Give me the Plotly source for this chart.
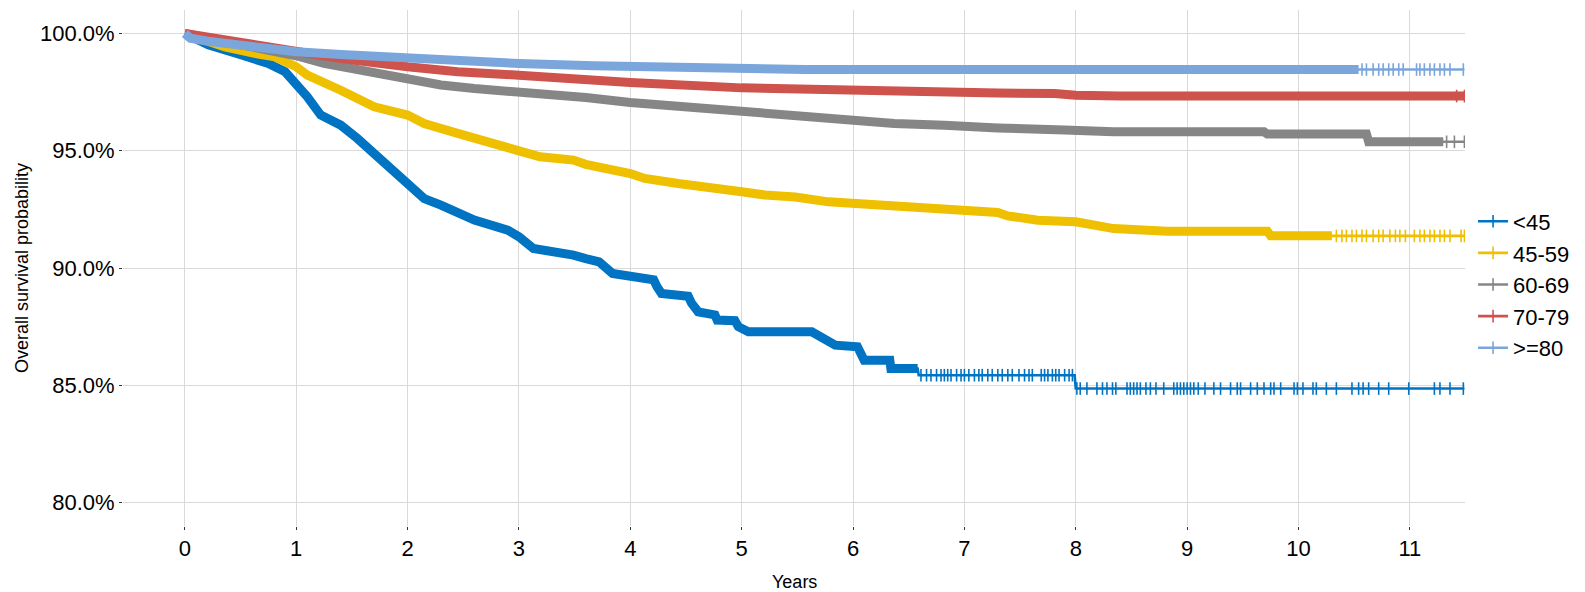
import numpy as np
import plotly.graph_objects as go

# ---------------- data ----------------
groups = ["<45", "45-59", "60-69", "70-79", ">=80"]
colors = ["#0073C2", "#EFC000", "#868686", "#CD534C", "#7AA6DC"]

t_lt45 = [0, 0.21, 0.51, 0.75, 0.9, 1.0, 1.1, 1.22, 1.4, 1.55, 1.7, 1.85, 2.0, 2.15, 2.3, 2.45, 2.6,
          2.9, 3.0, 3.13, 3.34, 3.49, 3.6, 3.72, 3.84, 4.0, 4.21, 4.24, 4.28, 4.52, 4.55, 4.61, 4.76,
          4.78, 4.94, 4.97, 5.06, 5.63, 5.72, 5.84, 6.04, 6.06, 6.1, 6.33, 6.34, 6.58, 6.59, 7.99,
          8.0, 11.49]
s_lt45 = [100, 99.52, 99.08, 98.72, 98.37, 97.87, 97.3, 96.52, 96.09, 95.52, 94.88, 94.31, 93.67,
          92.96, 92.68, 92.32, 92.04, 91.61, 91.33, 90.83, 90.69, 90.55, 90.4, 90.26, 89.77, 89.62,
          89.5, 89.2, 88.91, 88.8, 88.5, 88.13, 88.0, 87.78, 87.75, 87.5, 87.28, 87.28, 87.06, 86.71,
          86.64, 86.35, 86.07, 86.07, 85.71, 85.71, 85.43, 85.43, 84.86, 84.86]

t_45_59 = [0, 0.36, 0.66, 0.81, 1.0, 1.1, 1.4, 1.7, 2.0, 2.15, 2.45, 2.75, 3.0, 3.19, 3.49, 3.6, 4.0,
           4.13, 4.43, 4.73, 5.0, 5.21, 5.48, 5.78, 6.0, 6.37, 6.73, 7.0, 7.3, 7.39, 7.66, 8.0, 8.34,
           8.82, 9.72, 9.75, 11.49]
s_45_59 = [100, 99.43, 99.12, 99.0, 98.58, 98.22, 97.58, 96.87, 96.52, 96.16, 95.74, 95.31, 94.95,
           94.74, 94.6, 94.42, 94.03, 93.82, 93.6, 93.46, 93.25, 93.11, 93.03, 92.82, 92.75, 92.68,
           92.61, 92.47, 92.37, 92.22, 92.04, 91.97, 91.68, 91.57, 91.57, 91.37, 91.37]

t_60_69 = [0, 0.36, 0.66, 1.0, 1.25, 1.55, 2.0, 2.3, 2.6, 3.0, 3.34, 3.6, 4.0, 4.43, 5.0, 5.48, 6.0,
           6.37, 6.82, 7.0, 7.3, 7.9, 8.34, 9.69, 9.72, 10.61, 10.63, 11.49]
s_60_69 = [100, 99.68, 99.43, 99.05, 98.72, 98.44, 98.08, 97.8, 97.65, 97.51, 97.37, 97.27, 97.06,
           96.9, 96.69, 96.49, 96.35, 96.16, 96.09, 96.02, 95.97, 95.88, 95.81, 95.81, 95.71, 95.71,
           95.38, 95.38]

t_70_79 = [0, 0.36, 0.66, 1.0, 1.4, 2.0, 2.45, 3.0, 3.6, 4.0, 5.0, 6.0, 7.0, 7.3, 7.81, 8.0, 8.4, 11.49]
s_70_79 = [100, 99.7, 99.48, 99.2, 98.93, 98.58, 98.37, 98.22, 98.02, 97.91, 97.68, 97.56, 97.51,
           97.46, 97.44, 97.37, 97.33, 97.33]

t_ge80 = [0, 0.05, 0.21, 0.69, 1.0, 1.4, 2.0, 2.6, 3.0, 3.67, 4.0, 5.0, 5.57, 11.49]
s_ge80 = [100, 99.8, 99.67, 99.37, 99.22, 99.1, 98.93, 98.79, 98.72, 98.62, 98.58, 98.51, 98.46, 98.46]

# censoring times where the marks are individually visible (sparse tails)
cens_lt45 = [6.61, 6.66, 6.70, 6.75, 6.79, 6.82, 6.85, 6.88, 6.93, 6.97, 7.00, 7.04, 7.09, 7.13,
             7.16, 7.21, 7.25, 7.30, 7.34, 7.39, 7.43, 7.49, 7.54, 7.58, 7.61, 7.69, 7.72, 7.75,
             7.79, 7.82, 7.85, 7.90, 7.94, 7.97, 8.01, 8.04, 8.10, 8.19, 8.24, 8.28, 8.33, 8.36,
             8.46, 8.49, 8.52, 8.55, 8.58, 8.63, 8.67, 8.72, 8.79, 8.88, 8.91, 8.94, 8.97, 9.00,
             9.03, 9.06, 9.10, 9.16, 9.24, 9.30, 9.39, 9.45, 9.48, 9.57, 9.63, 9.69, 9.75, 9.78,
             9.84, 9.96, 9.99, 10.04, 10.13, 10.16, 10.25, 10.34, 10.48, 10.54, 10.58, 10.63,
             10.72, 10.81, 10.99, 11.22, 11.27, 11.36, 11.48]
cens_45_59 = [10.34, 10.39, 10.43, 10.48, 10.52, 10.57, 10.61, 10.67, 10.72, 10.76, 10.82, 10.87,
              10.91, 10.96, 11.04, 11.09, 11.13, 11.18, 11.22, 11.27, 11.31, 11.36, 11.46, 11.49]
cens_60_69 = [11.33, 11.40, 11.49]
cens_70_79 = [11.42, 11.49]
cens_ge80 = [10.57, 10.61, 10.67, 10.72, 10.76, 10.81, 10.85, 10.90, 10.94, 11.06, 11.09, 11.13,
             11.18, 11.22, 11.27, 11.31, 11.36, 11.48]

# end of the region where censoring marks are so dense they form a solid band
band_end = [6.58, 10.3, 11.3, 11.49, 10.54]

x_ticks = list(range(0, 12))
y_ticks = [80, 85, 90, 95, 100]
y_ticktext = ["80.0%", "85.0%", "90.0%", "95.0%", "100.0%"]

times = [t_lt45, t_45_59, t_60_69, t_70_79, t_ge80]
survs = [s_lt45, s_45_59, s_60_69, s_70_79, s_ge80]
cens = [cens_lt45, cens_45_59, cens_60_69, cens_70_79, cens_ge80]

FONT = "Liberation Sans, Arial, Helvetica, sans-serif"

fig = go.Figure()

for name, col, t, s, c, be in zip(groups, colors, times, survs, cens, band_end):
    t = np.array(t, dtype=float)
    s = np.array(s, dtype=float)
    # thin line over the whole curve
    fig.add_trace(go.Scatter(x=t, y=s, mode="lines", line=dict(color=col, width=2.6),
                             showlegend=False, hoverinfo="skip"))
    # dense-censoring band
    m = t <= be
    bx = np.append(t[m], be)
    by = np.append(s[m], np.interp(be, t, s))
    fig.add_trace(go.Scatter(x=bx, y=by, mode="lines", line=dict(color=col, width=9),
                             showlegend=False, hoverinfo="skip"))
    # individual censor marks
    c = np.array(c, dtype=float)
    cy = np.array([s[np.searchsorted(t, ci, side="right") - 1] for ci in c])
    fig.add_trace(go.Scatter(x=c, y=cy, mode="markers",
                             marker=dict(symbol="line-ns", size=9, color=col,
                                         line=dict(color=col, width=1.6)),
                             showlegend=False, hoverinfo="skip"))
    # legend entry
    fig.add_trace(go.Scatter(x=[None], y=[None], mode="lines+markers", name=name,
                             line=dict(color=col, width=2.6),
                             marker=dict(symbol="line-ns", size=9, color=col,
                                         line=dict(color=col, width=1.6))))

fig.update_layout(
    width=1585, height=592,
    margin=dict(l=123, r=116, t=10, b=66),
    paper_bgcolor="white", plot_bgcolor="white",
    font=dict(family=FONT, color="black", size=22),
    showlegend=True,
    legend=dict(x=1.006, xanchor="left", y=0.468, yanchor="middle",
                font=dict(size=22, family=FONT, color="black"),
                bgcolor="rgba(0,0,0,0)", tracegroupgap=0, itemwidth=30),
    xaxis=dict(range=[-0.555, 11.495], tickvals=x_ticks, ticktext=[str(v) for v in x_ticks],
               showgrid=True, gridcolor="#D9D9D9", gridwidth=1.2, zeroline=False,
               showline=False, ticks="outside", ticklen=3, tickwidth=1, tickcolor="#333333",
               tickfont=dict(size=22, family=FONT, color="black")),
    yaxis=dict(range=[79, 101], tickvals=y_ticks, ticktext=y_ticktext,
               showgrid=True, gridcolor="#D9D9D9", gridwidth=1.2, zeroline=False,
               showline=False, ticks="outside", ticklen=3, tickwidth=1, tickcolor="#333333",
               tickfont=dict(size=22, family=FONT, color="black")),
    annotations=[
        dict(text="Years", xref="paper", yref="paper", x=0.5, y=0, yshift=-56,
             xanchor="center", yanchor="middle", showarrow=False,
             font=dict(size=18, family=FONT, color="black")),
        dict(text="Overall survival probability", xref="paper", yref="paper", x=0, y=0.5,
             xshift=-101, xanchor="center", yanchor="middle", textangle=-90, showarrow=False,
             font=dict(size=18, family=FONT, color="black")),
    ],
)

fig.write_html("out.html")
